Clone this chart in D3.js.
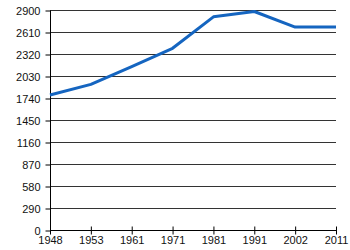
<!DOCTYPE html>
<html>
<head>
<meta charset="utf-8">
<script src="https://cdn.jsdelivr.net/npm/d3@7"></script>
<style>
  body { margin: 0; background: #fff; }
  text { font-family: "Liberation Sans", Arial, sans-serif; font-size: 11px; fill: #111; }
</style>
</head>
<body>
<script>
var years = ["1948", "1953", "1961", "1971", "1981", "1991", "2002", "2011"];
var values = [1780, 1920, 2155, 2395, 2810, 2880, 2675, 2675];
var yTicks = [0, 290, 580, 870, 1160, 1450, 1740, 2030, 2320, 2610, 2900];

var margin = {top: 10, right: 14, bottom: 20, left: 50},
    width = 350 - margin.left - margin.right,
    height = 250 - margin.top - margin.bottom;

var svg = d3.select('body').append('svg')
  .attr('width', 350)
  .attr('height', 250)
  .append('g')
  .attr('transform', 'translate(' + margin.left + ',' + margin.top + ')');

var x = d3.scalePoint().domain(years).range([0, width]);
var y = d3.scaleLinear().domain([0, 2900]).range([height, 0]);

// gridlines
svg.append('g')
  .selectAll('line')
  .data(yTicks.slice(1))
  .enter().append('line')
  .attr('x1', 0).attr('x2', width)
  .attr('y1', function(d) { return y(d) + 0.5; })
  .attr('y2', function(d) { return y(d) + 0.5; })
  .style('stroke', '#333')
  .style('stroke-width', 1);

var yAxis = svg.append('g')
  .attr('transform', 'translate(0.5,0.5)')
  .call(d3.axisLeft(y).tickValues(yTicks).tickFormat(d3.format('d')).tickSize(5).tickPadding(5));
yAxis.select('.domain').attr('d', 'M0,' + height + 'V0');
yAxis.selectAll('.tick line').style('stroke', '#000');
yAxis.selectAll('text').attr('dy', '0.35em');

var xAxis = svg.append('g')
  .attr('transform', 'translate(0,' + (height + 0.5) + ')')
  .call(d3.axisBottom(x).tickSize(4).tickPadding(2));
xAxis.select('.domain').attr('d', 'M0,0H' + width);
xAxis.selectAll('.tick line').attr('y1', -4).attr('y2', 4);

svg.selectAll('.domain').style('stroke', '#000');
svg.selectAll('.tick text').style('font-size', '11px').style('fill', '#111')
  .style('font-family', '"Liberation Sans", Arial, sans-serif');

var line = d3.line()
  .x(function(d, i) { return x(years[i]); })
  .y(function(d) { return y(d); });

svg.append('path')
  .datum(values)
  .attr('d', line)
  .style('fill', 'none')
  .style('stroke', '#1565c0')
  .style('stroke-width', 3)
  .style('stroke-linejoin', 'round');
</script>
</body>
</html>
